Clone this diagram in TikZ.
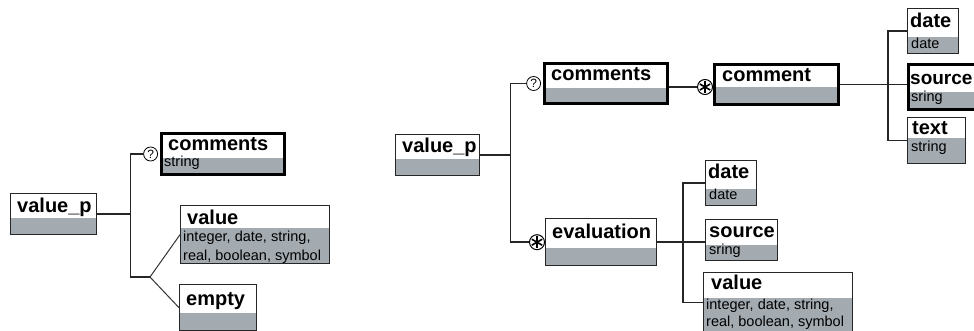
\documentclass[tikz,border=0pt]{standalone}
\usepackage{fontspec}
\setmainfont{Liberation Sans}
\usetikzlibrary{positioning}
\definecolor{boxgray}{RGB}{163,171,177}
\tikzset{
  box/.style={draw=black!85, line width=1.4pt, anchor=north west, inner sep=0pt,
    path picture={\fill[boxgray] ([yshift=-#1]path picture bounding box.north west) rectangle (path picture bounding box.south east);}},
  heavy/.style={line width=3pt, draw=black},
  title/.style={anchor=base west, inner sep=0pt, font=\fontsize{20}{22}\selectfont\bfseries},
  type/.style={anchor=base west, inner sep=0pt, font=\fontsize{14.5}{18}\selectfont},
  typelines/.style={anchor=north west, inner sep=0pt, align=left, font=\fontsize{14.5}{19}\selectfont},
  link/.style={line width=1.5pt, black!85},
  diag/.style={line width=1pt, black!80},
  opt/.style={circle, draw, line width=0.8pt, fill=white, inner sep=0pt, minimum size=14pt, font=\fontsize{12}{12}\selectfont},
  many/.style={circle, draw, line width=1pt, fill=white, inner sep=0pt, minimum size=15pt,
    path picture={\foreach \a in {30,90,150} \draw[line width=1.6pt] (path picture bounding box.center) +(\a:6pt) -- +(\a+180:6pt);}}
}
\begin{document}
\begin{tikzpicture}[x=1pt, y=-1pt]
	\useasboundingbox (0,0) rectangle (974,331);

	% left tree
	\node[box=24pt, minimum width=86pt, minimum height=41pt] (vpL) at (10,193) {};
	\node[title] (vpL-t) at ([shift={(7,19)}]vpL.north west) {value\_p};
	\node[box=25pt, heavy, minimum width=123pt, minimum height=41pt] (comL) at (160,132) {};
	\node[title] (comL-t) at ([shift={(8,19)}]comL.north west) {comments};
	\node[type] (comL-s) at ([shift={(4,35)}]comL.north west) {string};
	\node[box=22pt, minimum width=149pt, minimum height=58pt] (valL) at (180,205) {};
	\node[title] (valL-t) at ([shift={(7,19)}]valL.north west) {value};
	\node[typelines] (valL-s) at ([shift={(3,26)}]valL.north west) {integer, date, string,\\real, boolean, symbol};
	\node[box=28pt, minimum width=77pt, minimum height=46pt] (empL) at (179,284) {};
	\node[title] (empL-t) at ([shift={(7,21)}]empL.north west) {empty};

	\draw[link] (vpL.east) -- ++(33,0) coordinate (forkL);
	\node[opt, left=2pt of comL.west] (optL) {?};
	\coordinate (chL) at (150,277);
	\draw[link] (optL.west) -| (forkL) |- (chL);
	\draw[diag] (chL) -- (valL.west);
	\draw[diag] (chL) -- (empL.west);

	% right tree
	\node[box=24pt, minimum width=84pt, minimum height=41pt] (vpR) at (395,134) {};
	\node[title] (vpR-t) at ([shift={(7,19)}]vpR.north west) {value\_p};
	\node[box=25pt, heavy, minimum width=123pt, minimum height=40pt] (comR) at (543,62) {};
	\node[title] (comR-t) at ([shift={(8,19)}]comR.north west) {comments};
	\node[box=23pt, heavy, minimum width=124pt, minimum height=40pt] (cmt) at (713,63) {};
	\node[title] (cmt-t) at ([shift={(9,19)}]cmt.north west) {comment};
	\node[box=28pt, minimum width=51pt, minimum height=45pt] (dateA) at (907,8) {};
	\node[title] (dateA-t) at ([shift={(3,20)}]dateA.north west) {date};
	\node[type] (dateA-s) at ([shift={(4,41)}]dateA.north west) {date};
	\node[box=28pt, heavy, minimum width=80pt, minimum height=45pt] (srcA) at (907,63) {};
	\node[title, font=\fontsize{19}{21}\selectfont\bfseries] (srcA-t) at ([shift={(3,22)}]srcA.north west) {source};
	\node[type] (srcA-s) at ([shift={(4,39)}]srcA.north west) {sring};
	\node[box=20pt, minimum width=58pt, minimum height=46pt] (txtA) at (907,117) {};
	\node[title] (txtA-t) at ([shift={(5,18)}]txtA.north west) {text};
	\node[type] (txtA-s) at ([shift={(4,35)}]txtA.north west) {string};
	\node[box=29pt, minimum width=111pt, minimum height=47pt] (evl) at (545,218) {};
	\node[title] (evl-t) at ([shift={(7,20)}]evl.north west) {evaluation};
	\node[box=28pt, minimum width=51pt, minimum height=45pt] (dateB) at (705,160) {};
	\node[title] (dateB-t) at ([shift={(3,19)}]dateB.north west) {date};
	\node[type] (dateB-s) at ([shift={(4,40)}]dateB.north west) {date};
	\node[box=25pt, minimum width=72pt, minimum height=41pt] (srcB) at (705,219) {};
	\node[title] (srcB-t) at ([shift={(4,18)}]srcB.north west) {source};
	\node[type] (srcB-s) at ([shift={(4,35)}]srcB.north west) {sring};
	\node[box=25pt, minimum width=149pt, minimum height=60pt] (valR) at (703,272) {};
	\node[title] (valR-t) at ([shift={(8,17)}]valR.north west) {value};
	\node[typelines, font=\fontsize{14.5}{17}\selectfont] (valR-s) at ([shift={(3,27)}]valR.north west) {integer, date, string,\\real, boolean, symbol};

	\draw[link] (vpR.east) -- ++(30,0) coordinate (forkR);
	\node[opt, left=2pt of comR.west] (optR) {?};
	\node[many, left=0pt of evl.west] (manyE) {};
	\draw[link] (optR.west) -| (forkR) |- (manyE.west);
	\node[many] (manyC) at (705,87) {};
	\draw[link] (manyC.west -| comR.east) -- (manyC.west);
	\draw[link] (cmt.east) -- (cmt.east -| srcA.west);
	\draw[link] (dateA.west) -| ([xshift=-19pt]srcA.west) |- (txtA.west);
	\draw[link] (evl.east) -- (evl.east -| srcB.west);
	\draw[link] (dateB.west) -| ([xshift=-22pt]srcB.west) |- (valR.west);
\end{tikzpicture}
\end{document}
